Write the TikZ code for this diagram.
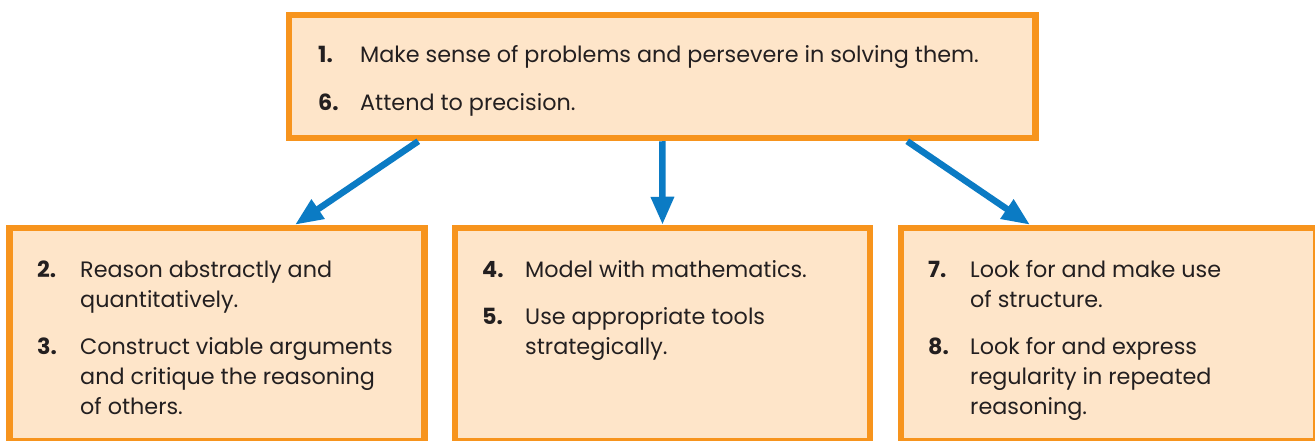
\documentclass[tikz,border=0pt]{standalone}
\usepackage{fontspec}
\setmainfont{Poppins}
\usetikzlibrary{arrows.meta}
\definecolor{boxorange}{HTML}{F7941D}
\definecolor{boxfill}{HTML}{FEE5C9}
\definecolor{arrowblue}{HTML}{0B7BC4}
\definecolor{inktext}{HTML}{231F20}
\newcommand\stacklines[1]{\vtop{\baselineskip=30pt\lineskiplimit=-100pt\halign{##\hfil\cr#1\crcr}}}
\begin{document}
\begin{tikzpicture}[x=1pt,y=-1pt,
  box/.style={draw=boxorange, fill=boxfill, line width=6.5pt, minimum width=415pt, minimum height=213pt, inner sep=0pt},
  num/.style={anchor=base west, inner sep=0pt, font=\fontsize{22.3}{30}\selectfont\bfseries, text=inktext},
  txt/.style={anchor=base west, inner sep=0pt, font=\fontsize{22.3}{30}\selectfont, text=inktext},
  link/.style={draw=arrowblue, line width=6.5pt, -{Triangle[length=28pt,width=22pt]}}]
\useasboundingbox (0,0) rectangle (1315,441);
% boxes
\node[box, minimum width=746.5pt, minimum height=123pt] (top) at (662.25,76.5) {};
\node[box] (lb) at (217,334.5) {};
\node[box] (mb) at (662.5,334.5) {};
\node[box] (rb) at (1108.5,334.5) {};
% top text
\node[num] (n1) at (318,63) {1.};
\node[txt] (t1) at (360,63) {Make sense of problems and persevere in solving them.};
\node[num] (n6) at (318,111) {6.};
\node[txt] (t6) at (360,111) {Attend to precision.};
% left text
\node[num] (n2) at (37,277) {2.};
\node[txt] (t2) at (80,277) {\stacklines{Reason abstractly and\cr quantitatively.}};
\node[num] (n3) at (37,354) {3.};
\node[txt] (t3) at (80,354) {\stacklines{Construct viable arguments\cr and critique the reasoning\cr of others.}};
% middle text
\node[num] (n4) at (482,277) {4.};
\node[txt] (t4) at (525,277) {Model with mathematics.};
\node[num] (n5) at (482,324) {5.};
\node[txt] (t5) at (525,324) {\stacklines{Use appropriate tools\cr strategically.}};
% right text
\node[num] (n7) at (928,277) {7.};
\node[txt] (t7) at (970,277) {\stacklines{Look for and make use\cr of structure.}};
\node[num] (n8) at (928,354) {8.};
\node[txt] (t8) at (970,354) {\stacklines{Look for and express\cr regularity in repeated\cr reasoning.}};
% arrows
\draw[link] ([xshift=-244pt]top.south) -- ([xshift=78pt]lb.north);
\draw[link] (top.south) -- (mb.north);
\draw[link] ([xshift=245pt]top.south) -- ([xshift=-78.5pt]rb.north);
\end{tikzpicture}
\end{document}
